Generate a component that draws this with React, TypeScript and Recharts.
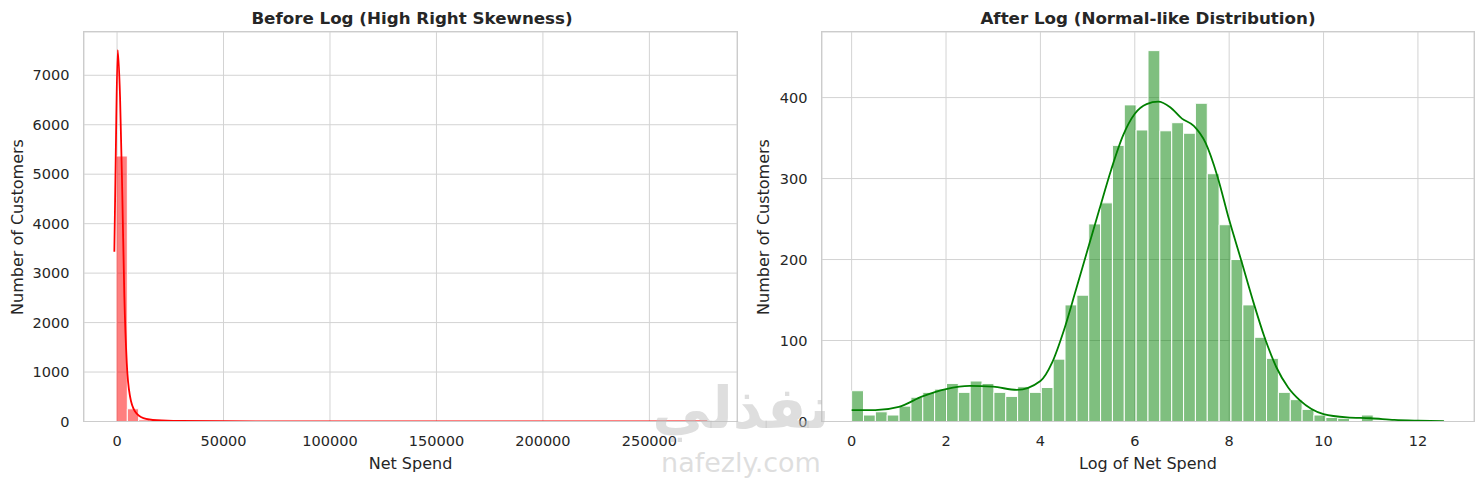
import React from 'react';
import { ComposedChart, Line, XAxis, YAxis, CartesianGrid, ReferenceArea } from 'recharts';

// ---------- Left panel: Net Spend (before log) ----------
const beforeBinStart = -470;
const beforeBinWidth = 5300;
const beforeCounts = [
  5368, 257, 35, 18, 12, 9, 7, 6, 5, 6, 4, 3, 3, 2, 2, 1, 1, 1, 1, 0,
  1, 0, 1, 0, 0, 1, 0, 0, 0, 1, 0, 0, 0, 0, 0, 0, 0, 0, 0, 0,
  0, 0, 0, 0, 0, 0, 0, 0, 0, 0, 0, 0, 1,
];
const beforeKdeX = [-1270, -600, 330, 1410, 2490, 3430, 4560, 6110, 8470, 12370, 18670, 29600, 50000, 100000, 150000, 200000, 277200];
const beforeKdeY = [3434, 5400, 7510, 6566, 4545, 2525, 1185, 505, 202, 69, 25, 10, 5, 3, 2, 1, 1];
const beforeXTicks = [0, 50000, 100000, 150000, 200000, 250000];
const beforeYTicks = [0, 1000, 2000, 3000, 4000, 5000, 6000, 7000];
const beforeXDomain = [-15520, 291150];
const beforeYDomain = [0, 7875];

// ---------- Right panel: Log of Net Spend ----------
const afterBinStart = 0;
const afterBinWidth = 0.2512;
const afterCounts = [
  38, 8, 12, 8, 19, 30, 36, 40, 47, 36,
  50, 47, 36, 31, 43, 36, 42, 77, 144, 156,
  244, 270, 341, 391, 360, 458, 359, 369, 356, 393,
  306, 243, 200, 144, 104, 78, 36, 27, 15, 8,
  5, 4, 0, 8, 1, 0, 0, 0, 0, 1,
];
const afterKdeX = [0, 0.5, 1, 1.5, 2, 2.5, 3, 3.5, 4, 4.25, 4.5, 4.75, 5, 5.25, 5.5, 5.75, 6, 6.25, 6.5, 6.75, 7, 7.25, 7.5, 7.75, 8, 8.25, 8.5, 8.75, 9, 9.25, 9.5, 10, 10.5, 11, 11.5, 12, 12.55];
const afterKdeY = [14, 14, 18, 31, 40, 44, 43, 39, 50, 73, 113, 162, 212, 262, 311, 353, 380, 392, 395, 388, 374, 365, 344, 303, 249, 200, 150, 104, 67, 42, 26, 9, 5, 4, 2, 1, 0.3];
const afterXTicks = [0, 2, 4, 6, 8, 10, 12];
const afterYTicks = [0, 100, 200, 300, 400];
const afterXDomain = [-0.628, 13.188];
const afterYDomain = [0, 481];

const TEXT = '#262626';
const GRID = '#d3d3d3';
const SPINE = '#cccccc';
const FONT = '"DejaVu Sans", sans-serif';
const CHART_H = 484;
const TOP = 32;
const X_AXIS_H = 62.5;

type PanelProps = {
  left: number;
  width: number;
  yAxisWidth: number;
  marginRight: number;
  xDomain: number[];
  yDomain: number[];
  xTicks: number[];
  yTicks: number[];
  binStart: number;
  binWidth: number;
  counts: number[];
  kdeX: number[];
  kdeY: number[];
  color: string;
};

function Panel(p: PanelProps) {
  const kde = p.kdeX.map((x, i) => ({ x, y: p.kdeY[i] }));
  const tickStyle = { fontSize: 14.5, fill: TEXT, fontFamily: FONT };
  const plotLeft = p.yAxisWidth;
  const plotRight = p.width - p.marginRight;
  const plotBottom = CHART_H - X_AXIS_H;
  const sw = 1.5;
  return (
    <div style={{ position: 'absolute', left: p.left, top: 0, width: p.width, height: CHART_H }}>
      <ComposedChart
        width={p.width}
        height={CHART_H}
        margin={{ top: TOP, right: p.marginRight, bottom: 0, left: 0 }}
      >
        <CartesianGrid stroke={GRID} strokeWidth={1} />
        <XAxis
          dataKey="x"
          type="number"
          domain={p.xDomain}
          allowDataOverflow
          ticks={p.xTicks}
          height={X_AXIS_H}
          axisLine={false}
          tickLine={false}
          tickSize={6}
          tickMargin={8}
          tick={tickStyle}
          interval={0}
        />
        <YAxis
          type="number"
          domain={p.yDomain}
          allowDataOverflow
          ticks={p.yTicks}
          width={p.yAxisWidth}
          axisLine={false}
          tickLine={false}
          tickSize={6}
          tickMargin={8.5}
          tick={tickStyle}
          interval={0}
        />
        {p.counts.map((c, i) =>
          c > 0 ? (
            <ReferenceArea
              key={'b' + i}
              x1={p.binStart + i * p.binWidth}
              x2={p.binStart + (i + 1) * p.binWidth}
              y1={0}
              y2={c}
              fill={p.color}
              fillOpacity={0.5}
              stroke="#ffffff"
              strokeWidth={1}
              ifOverflow="visible"
            />
          ) : null
        )}
        <Line
          data={kde}
          dataKey="y"
          type="monotone"
          stroke={p.color}
          strokeWidth={1.8}
          dot={false}
          activeDot={false}
          isAnimationActive={false}
        />
      </ComposedChart>
      <div
        style={{
          position: 'absolute',
          left: plotLeft - sw / 2,
          top: TOP - sw / 2,
          width: plotRight - plotLeft + sw,
          height: plotBottom - TOP + sw,
          border: `${sw}px solid ${SPINE}`,
          boxSizing: 'border-box',
          pointerEvents: 'none',
        }}
      />
    </div>
  );
}

const textBase: React.CSSProperties = {
  position: 'absolute',
  fontFamily: FONT,
  color: TEXT,
  whiteSpace: 'nowrap',
  lineHeight: 1,
  transform: 'translate(-50%, -50%)',
};

const WM = 'rgba(190,190,190,0.5)';

export default function App() {
  return (
    <div style={{ position: 'absolute', left: 0, top: 0, width: 1484, height: 484, background: '#ffffff', fontFamily: FONT, overflow: 'hidden' }}>
      <Panel
        left={0}
        width={742}
        yAxisWidth={84}
        marginRight={5}
        xDomain={beforeXDomain}
        yDomain={beforeYDomain}
        xTicks={beforeXTicks}
        yTicks={beforeYTicks}
        binStart={beforeBinStart}
        binWidth={beforeBinWidth}
        counts={beforeCounts}
        kdeX={beforeKdeX}
        kdeY={beforeKdeY}
        color="#ff0000"
      />
      <Panel
        left={742}
        width={742}
        yAxisWidth={80}
        marginRight={10}
        xDomain={afterXDomain}
        yDomain={afterYDomain}
        xTicks={afterXTicks}
        yTicks={afterYTicks}
        binStart={afterBinStart}
        binWidth={afterBinWidth}
        counts={afterCounts}
        kdeX={afterKdeX}
        kdeY={afterKdeY}
        color="#008000"
      />

      <div style={{ ...textBase, left: 412, top: 18, fontSize: 16.7, fontWeight: 'bold' }}>Before Log (High Right Skewness)</div>
      <div style={{ ...textBase, left: 1148, top: 18, fontSize: 16.7, fontWeight: 'bold' }}>After Log (Normal-like Distribution)</div>

      <div style={{ ...textBase, left: 410.5, top: 464, fontSize: 16 }}>Net Spend</div>
      <div style={{ ...textBase, left: 1148, top: 464, fontSize: 16 }}>Log of Net Spend</div>

      <div style={{ ...textBase, left: 18, top: 226.5, fontSize: 16, transform: 'translate(-50%, -50%) rotate(-90deg)' }}>Number of Customers</div>
      <div style={{ ...textBase, left: 764, top: 226.5, fontSize: 16, transform: 'translate(-50%, -50%) rotate(-90deg)' }}>Number of Customers</div>

      <div style={{ ...textBase, left: 741, top: 408, fontSize: 58, fontWeight: 'bold', color: WM, direction: 'rtl' }}>نفذلي</div>
      <div style={{ ...textBase, left: 741, top: 462, fontSize: 27, color: WM }}>nafezly.com</div>
    </div>
  );
}
